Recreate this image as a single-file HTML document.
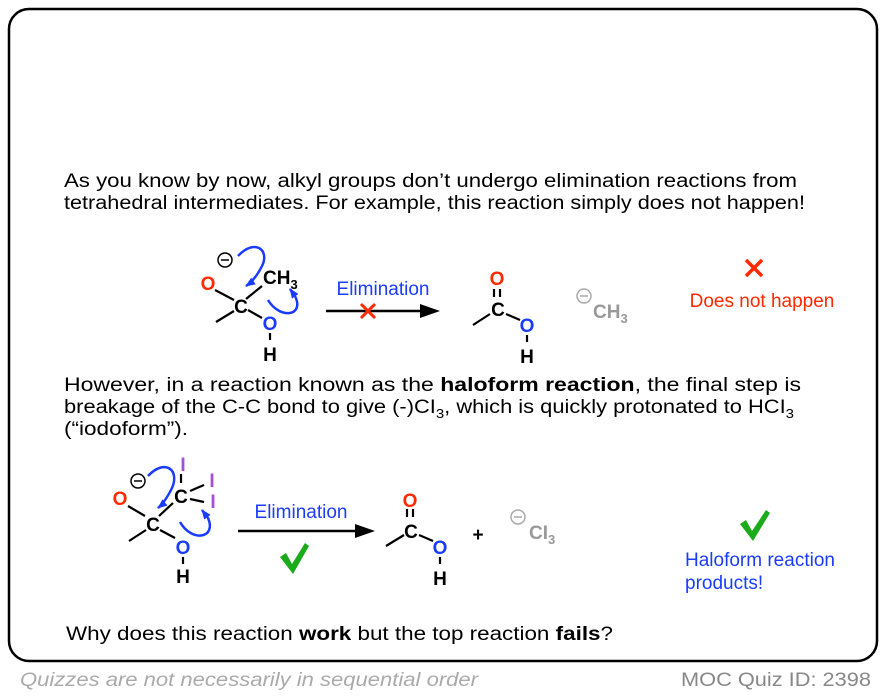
<!DOCTYPE html>
<html><head><meta charset="utf-8"><style>
html,body{margin:0;padding:0;background:#fff;width:886px;height:696px;overflow:hidden}
svg{display:block;font-family:"Liberation Sans",Arial,sans-serif}
</style></head><body>
<svg width="886" height="696" viewBox="0 0 886 696" xmlns="http://www.w3.org/2000/svg">
<defs>
<marker id="ah" markerWidth="10" markerHeight="8" refX="9" refY="4" orient="auto" markerUnits="userSpaceOnUse"><path d="M0,0 L10,4 L0,8 Z" fill="#1a3cff"/></marker>
</defs>
<rect x="9" y="9" width="868" height="652" rx="20" ry="20" fill="#fff" stroke="#000" stroke-width="2.5"/>

<g font-size="19" fill="#000">
<text x="64" y="187" textLength="733" lengthAdjust="spacingAndGlyphs">As you know by now,  alkyl groups don’t undergo elimination reactions from</text>
<text x="64" y="209" textLength="741" lengthAdjust="spacingAndGlyphs">tetrahedral intermediates. For example, this reaction simply does not happen!</text>
<text x="64" y="391" textLength="737" lengthAdjust="spacingAndGlyphs">However, in a reaction known as the <tspan font-weight="bold">haloform reaction</tspan>, the final step is</text>
<text x="64" y="413" textLength="730" lengthAdjust="spacingAndGlyphs">breakage of the C-C bond to give (-)CI<tspan font-size="13" dy="5">3</tspan><tspan dy="-5">, which is quickly protonated to HCI</tspan><tspan font-size="13" dy="5">3</tspan></text>
<text x="64" y="435" textLength="124" lengthAdjust="spacingAndGlyphs">(“iodoform”).</text>
<text x="66" y="640" textLength="547" lengthAdjust="spacingAndGlyphs">Why does this reaction <tspan font-weight="bold">work</tspan> but the top reaction <tspan font-weight="bold">fails</tspan>?</text>
</g>
<text x="20" y="686" font-size="19" font-style="italic" fill="#aaa" textLength="458" lengthAdjust="spacingAndGlyphs">Quizzes are not necessarily in sequential order</text>
<text x="871" y="686" font-size="19" fill="#888" text-anchor="end" textLength="190" lengthAdjust="spacingAndGlyphs">MOC Quiz ID: 2398</text>

<!-- Molecule 1 -->
<g stroke="#000" stroke-width="2.2" fill="none">
<line x1="215" y1="290" x2="234" y2="300"/>
<line x1="246" y1="299" x2="262" y2="286"/>
<line x1="234" y1="311" x2="216" y2="322"/>
<line x1="248" y1="310" x2="262" y2="318"/>
<line x1="270" y1="333" x2="270" y2="340"/>
</g>
<g font-weight="bold" font-size="19" text-anchor="middle">
<text x="208" y="290" fill="#ff2a00">O</text>
<text x="241" y="313" fill="#000">C</text>
<text x="270" y="330" fill="#1a3cff">O</text>
<text x="270" y="361" fill="#000">H</text>
<text x="263" y="284" text-anchor="start" fill="#000">CH<tspan font-size="13" dy="5">3</tspan></text>
</g>
<circle cx="225" cy="260" r="7" fill="none" stroke="#000" stroke-width="1.5"/>
<line x1="221" y1="260" x2="229" y2="260" stroke="#000" stroke-width="1.5"/>
<path d="M238,256 C255,238 270,250 262,266 C258,274 252,282 246,286" fill="none" stroke="#1a3cff" stroke-width="2.5" marker-end="url(#ah)"/>
<path d="M268,300 C280,320 305,316 295,296 L290,289" fill="none" stroke="#1a3cff" stroke-width="2.5" marker-end="url(#ah)"/>

<line x1="326" y1="311" x2="425" y2="311" stroke="#000" stroke-width="2.5"/>
<path d="M440,311 L420,304 L420,318 Z" fill="#000"/>
<text x="383" y="295" font-size="19" fill="#1a3cff" text-anchor="middle">Elimination</text>
<g stroke="#ff2a00" stroke-width="3"><line x1="361" y1="304" x2="375" y2="318"/><line x1="375" y1="304" x2="361" y2="318"/></g>

<g stroke="#000" stroke-width="2.2">
<line x1="494" y1="289" x2="494" y2="297"/><line x1="500" y1="289" x2="500" y2="297"/>
<line x1="490" y1="314" x2="473" y2="325"/>
<line x1="506" y1="314" x2="520" y2="320"/>
<line x1="527" y1="335" x2="527" y2="342"/>
</g>
<g font-weight="bold" font-size="19" text-anchor="middle">
<text x="497" y="285" fill="#ff2a00">O</text>
<text x="498" y="316" fill="#000">C</text>
<text x="527" y="332" fill="#1a3cff">O</text>
<text x="527" y="363" fill="#000">H</text>
</g>
<circle cx="584" cy="296" r="7" fill="none" stroke="#aaa" stroke-width="1.5"/>
<line x1="580" y1="296" x2="588" y2="296" stroke="#aaa" stroke-width="1.5"/>
<text x="593" y="318" font-weight="bold" font-size="19" fill="#999">CH<tspan font-size="13" dy="5">3</tspan></text>

<g stroke="#ff2a00" stroke-width="3.5"><line x1="746" y1="260" x2="762" y2="276"/><line x1="762" y1="260" x2="746" y2="276"/></g>
<text x="762" y="307" font-size="19" fill="#ff2a00" text-anchor="middle">Does not happen</text>

<!-- Molecule 2 -->
<g stroke="#000" stroke-width="2.2" fill="none">
<line x1="128" y1="506" x2="145" y2="516"/>
<line x1="159" y1="516" x2="173" y2="503"/>
<line x1="146" y1="530" x2="129" y2="541"/>
<line x1="160" y1="530" x2="175" y2="538"/>
<line x1="183" y1="557" x2="183" y2="564"/>
<line x1="181" y1="474" x2="181" y2="483"/>
<line x1="190" y1="491" x2="204" y2="485"/>
<line x1="190" y1="499" x2="204" y2="502"/>
</g>
<g font-weight="bold" font-size="19" text-anchor="middle">
<text x="120" y="505" fill="#ff2a00">O</text>
<text x="153" y="531" fill="#000">C</text>
<text x="181" y="503" fill="#000">C</text>
<text x="183" y="554" fill="#1a3cff">O</text>
<text x="183" y="583" fill="#000">H</text>
<text x="183" y="471" fill="#a64dd9">I</text>
<text x="212" y="487" fill="#a64dd9">I</text>
<text x="213" y="508" fill="#a64dd9">I</text>
</g>
<circle cx="138" cy="481" r="7" fill="none" stroke="#000" stroke-width="1.5"/>
<line x1="134" y1="481" x2="142" y2="481" stroke="#000" stroke-width="1.5"/>
<path d="M148,476 C165,458 180,470 172,488 C168,496 163,504 158,508" fill="none" stroke="#1a3cff" stroke-width="2.5" marker-end="url(#ah)"/>
<path d="M180,522 C192,543 217,538 208,518 L202,510" fill="none" stroke="#1a3cff" stroke-width="2.5" marker-end="url(#ah)"/>

<line x1="238" y1="531" x2="358" y2="531" stroke="#000" stroke-width="2.5"/>
<path d="M375,531 L355,524 L355,538 Z" fill="#000"/>
<text x="301" y="518" font-size="19" fill="#1a3cff" text-anchor="middle">Elimination</text>
<path d="M280,557 L286,553 L292,564 L305,543 L309,546 L293,574 Z" fill="#1aaa1a"/>

<g stroke="#000" stroke-width="2.2">
<line x1="407" y1="509" x2="407" y2="517"/><line x1="413" y1="509" x2="413" y2="517"/>
<line x1="404" y1="535" x2="386" y2="546"/>
<line x1="419" y1="535" x2="433" y2="541"/>
<line x1="440" y1="557" x2="440" y2="564"/>
</g>
<g font-weight="bold" font-size="19" text-anchor="middle">
<text x="410" y="507" fill="#ff2a00">O</text>
<text x="411" y="538" fill="#000">C</text>
<text x="440" y="554" fill="#1a3cff">O</text>
<text x="440" y="585" fill="#000">H</text>
</g>
<text x="478" y="541" font-size="19" font-weight="bold" text-anchor="middle">+</text>
<circle cx="518" cy="517" r="7" fill="none" stroke="#aaa" stroke-width="1.5"/>
<line x1="514" y1="517" x2="522" y2="517" stroke="#aaa" stroke-width="1.5"/>
<text x="529" y="539" font-weight="bold" font-size="19" fill="#999">CI<tspan font-size="13" dy="5">3</tspan></text>

<path d="M740,524 L746,520 L752,531 L766,510 L770,513 L753,541 Z" fill="#1aaa1a"/>
<text x="685" y="566" font-size="19" fill="#1a3cff">Haloform reaction</text>
<text x="685" y="589" font-size="19" fill="#1a3cff">products!</text>
</svg>
</body></html>
